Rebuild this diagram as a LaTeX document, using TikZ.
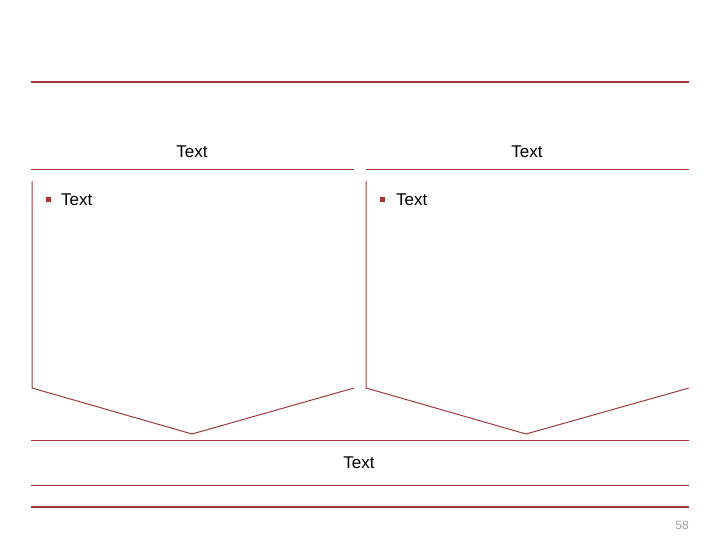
\documentclass[tikz,border=0pt]{standalone}
\usepackage{fontspec}
\setmainfont{Liberation Sans}
\definecolor{dred}{HTML}{A03A3A}
\definecolor{bred}{HTML}{B03030}
\definecolor{pgray}{HTML}{A0A0A0}
\begin{document}
\begin{tikzpicture}[x=1pt,y=-1pt,
  thin/.style={draw=dred,line width=1pt},
  thick/.style={draw=dred,line width=2.4pt},
  lbl/.style={font=\fontsize{17}{19}\selectfont,inner sep=0pt},
  bul/.style={fill=bred,minimum size=5pt,inner sep=0pt}]
\useasboundingbox (0,0) rectangle (720,540);
\draw[thick] (31,82) -- (689,82);
\node[lbl] (h1) at (192,152) {Text};
\node[lbl] (h2) at (527,152) {Text};
\draw[thin] (31,170) -- (354,170);
\draw[thin] (366,170) -- (689,170);
\draw[thin] (32,181) -- (32,388) -- (192,434) -- (354,388);
\draw[thin] (366,181) -- (366,388) -- (526,434) -- (689,388);
\node[bul] (b1) at (48,200) {};
\node[lbl,anchor=west] (t1) at (61,200) {Text};
\node[bul] (b2) at (382,200) {};
\node[lbl,anchor=west] (t2) at (396,200) {Text};
\draw[thin] (31,440) -- (689,440);
\node[lbl] (m) at (359,463) {Text};
\draw[thin] (31,485) -- (689,485);
\draw[thick] (31,507) -- (689,507);
\node[font=\fontsize{12}{14}\selectfont,text=pgray,inner sep=0pt] (pg) at (682,525) {58};
\end{tikzpicture}
\end{document}
